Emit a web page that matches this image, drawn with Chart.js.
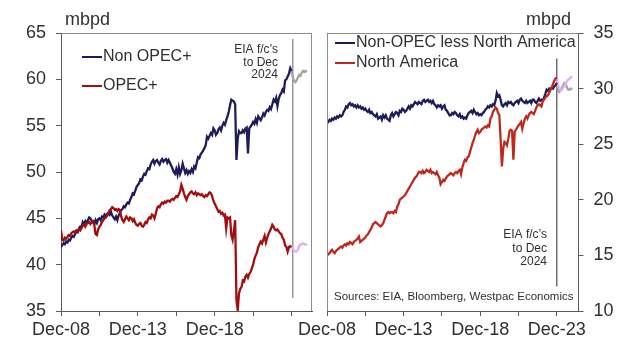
<!DOCTYPE html>
<html>
<head>
<meta charset="utf-8">
<title>Oil supply: OPEC+ vs non-OPEC+</title>
<script src="https://cdn.jsdelivr.net/npm/chart.js@4.4.1/dist/chart.umd.min.js"></script>
<style>
  body { margin: 0; background: #fff; }
  #wrap { position: relative; width: 634px; height: 340px; overflow: hidden; }
  .panel { position: absolute; top: 0; }
  #leftPanel { left: 0; }
  #rightPanel { left: 290px; }
</style>
</head>
<body>
<div id="wrap">
  <div class="panel" id="leftPanel"><canvas id="leftChart" width="320" height="340"></canvas></div>
  <div class="panel" id="rightPanel"><canvas id="rightChart" width="344" height="340"></canvas></div>
</div>
<script>
// Monthly supply, mbpd. Index 0 = Dec-08, one row per calendar year after that, last value Dec-23.
const nonOpecPlus = [41.9,
  42.1, 42.3, 42.2, 42.5, 42.4, 42.7, 42.6, 42.9, 43.1, 43.0, 43.3, 43.6,
  43.5, 43.9, 44.1, 44.0, 44.6, 44.4, 44.7, 44.5, 44.8, 45.1, 45.0, 44.7,
  44.6, 44.4, 44.8, 44.5, 44.9, 45.0, 44.8, 45.2, 45.1, 45.4, 45.2, 45.5,
  45.6, 45.4, 45.7, 45.3, 45.1, 44.9, 45.2, 44.8, 45.3, 45.6, 45.9, 46.0,
  46.3, 46.2, 46.5, 46.7, 46.6, 47.0, 47.3, 47.7, 47.6, 48.0, 48.4, 48.6,
  48.8, 49.2, 49.1, 49.5, 49.8, 49.7, 50.1, 50.4, 50.3, 50.8, 51.1, 51.3,
  50.9, 51.2, 51.3, 51.0, 50.8, 51.2, 51.4, 51.1, 51.3, 51.4, 51.0, 51.3,
  51.0, 50.7, 50.4, 50.0, 49.8, 50.3, 49.7, 50.5, 49.8, 50.2, 50.9, 50.4,
  49.9, 50.2, 49.8, 50.1, 49.9, 50.3, 50.0, 50.6, 50.4, 51.0, 51.6, 51.5,
  51.9, 52.1, 52.3, 52.6, 52.9, 53.8, 53.6, 53.9, 54.2, 54.0, 54.7, 54.5,
  54.0, 54.2, 54.6, 54.8, 54.5, 55.0, 55.3, 55.1, 55.6, 56.0, 56.5, 57.2,
  57.8, 57.7, 57.6, 57.3, 51.3, 53.6, 54.4, 54.2, 54.2, 54.5, 54.3, 54.7,
  54.8, 52.0, 54.7, 54.9, 55.1, 55.4, 55.2, 55.7, 55.3, 56.0, 55.8, 55.6,
  55.9, 56.3, 56.1, 56.5, 56.7, 56.6, 57.0, 56.8, 57.3, 57.8, 57.6, 58.0,
  57.1, 57.9, 58.3, 58.5, 58.9, 58.7, 59.9, 60.0, 60.3, 60.6, 61.2, 60.9];

const opecPlus = [43.7,
  42.7, 42.6, 42.9, 42.8, 43.0, 43.2, 43.1, 43.4, 43.5, 43.6, 43.5, 43.7,
  43.6, 43.8, 43.7, 44.0, 44.2, 44.3, 44.1, 44.4, 44.5, 44.6, 44.4, 44.6,
  44.7, 44.3, 43.3, 43.2, 43.8, 44.1, 44.3, 44.6, 44.8, 45.0, 45.1, 45.3,
  45.5, 45.9, 46.0, 46.2, 46.1, 45.9, 46.0, 45.8, 46.0, 45.9, 45.2, 44.8,
  44.6, 44.9, 45.2, 45.0, 44.8, 45.1, 45.0, 44.7, 44.9, 44.5, 44.3, 44.2,
  44.4, 44.5, 44.2, 44.1, 44.3, 44.6, 44.5, 44.9, 45.1, 45.0, 45.4, 45.3,
  45.0, 45.5, 46.1, 46.3, 46.2, 46.5, 46.7, 46.6, 46.8, 46.7, 46.9, 46.9,
  46.8, 47.0, 47.1, 47.0, 47.2, 47.4, 47.3, 47.6, 47.9, 48.6, 48.2, 47.7,
  47.3, 47.0, 47.4, 47.6, 47.8, 47.9, 47.7, 47.6, 47.8, 47.5, 47.7, 47.6,
  47.5, 47.6, 47.4, 47.3, 47.5, 47.4, 47.6, 47.8, 47.7, 47.4, 46.9, 46.6,
  46.3, 46.0, 45.7, 45.8, 45.5, 45.6, 45.3, 45.4, 43.9, 45.1, 45.0, 45.1,
  43.2, 42.7, 43.6, 44.8, 36.2, 35.1, 36.9, 37.4, 37.6, 38.3, 38.2, 38.7,
  38.9, 38.6, 39.0, 39.2, 39.6, 40.0, 40.6, 41.0, 41.3, 41.9, 42.2, 42.5,
  42.3, 42.7, 43.1, 42.4, 42.9, 43.3, 43.6, 43.9, 44.3, 44.1, 43.8, 43.7,
  43.8, 43.6, 43.4, 43.3, 42.9, 42.7, 42.1, 41.9, 41.4, 41.9, 42.0, 41.9];

const nonOpecExNorthAm = [26.9,
  27.0, 27.2, 27.1, 27.3, 27.2, 27.4, 27.3, 27.5, 27.4, 27.6, 27.5, 27.6,
  27.9, 28.1, 28.4, 28.3, 28.6, 28.7, 28.5, 28.6, 28.4, 28.5, 28.3, 28.5,
  28.3, 28.4, 28.2, 28.3, 28.1, 28.2, 28.0, 27.9, 28.1, 27.8, 27.9, 27.7,
  27.6, 27.5, 27.7, 27.3, 27.4, 27.5, 27.2, 27.6, 27.4, 27.6, 27.3, 27.2,
  27.1, 27.6, 27.8, 27.5, 27.7, 27.9, 27.8, 27.6, 28.0, 27.9, 28.2, 28.1,
  27.9, 28.0, 28.2, 28.4, 28.2, 28.5, 28.4, 28.6, 28.8, 28.7, 28.6, 28.8,
  28.7, 28.6, 28.9, 29.0, 28.8, 28.9, 29.0, 28.8, 28.9, 28.7, 28.9, 28.6,
  28.5, 28.3, 28.5, 28.4, 28.5, 28.2, 28.4, 28.5, 28.1, 28.0, 27.8, 27.6,
  27.6, 27.8, 27.7, 27.9, 27.8, 27.6, 27.5, 27.7, 27.4, 27.5, 27.3, 27.4,
  27.3, 27.6, 27.8, 27.9, 28.0, 27.8, 28.1, 27.9, 27.7, 27.8, 27.6, 27.7,
  27.6, 27.8, 27.9, 28.1, 28.2, 28.4, 28.3, 28.5, 28.4, 28.6, 28.5, 28.9,
  29.6, 29.3, 29.4, 29.0, 28.5, 28.4, 28.6, 28.7, 28.5, 28.8, 28.7, 28.8,
  28.6, 28.5, 28.7, 28.8, 28.9, 28.7, 29.0, 29.1, 28.9, 28.8, 28.7, 28.9,
  28.7, 28.8, 28.9, 28.7, 29.0, 29.0, 28.8, 28.7, 28.9, 29.1, 28.9, 29.0,
  28.9, 29.2, 29.5, 29.9, 29.8, 30.0, 29.9, 30.1, 30.0, 30.2, 30.3, 30.5];

const northAmerica = [15.0,
  15.1, 15.2, 15.4, 15.5, 15.3, 15.2, 15.4, 15.5, 15.6, 15.7, 15.8, 15.7,
  15.9, 16.0, 15.9, 16.1, 16.0, 16.2, 16.1, 16.0, 16.2, 16.3, 16.4, 16.5,
  16.7, 16.2, 16.3, 16.4, 16.5, 16.6, 16.8, 16.9, 17.1, 17.3, 17.5, 17.8,
  17.9, 18.0, 17.9, 17.8, 17.7, 17.6, 17.7, 17.9, 18.2, 18.5, 18.8, 18.9,
  18.8, 18.9, 18.9, 18.8, 19.0, 18.9, 19.4, 19.6, 20.0, 20.1, 20.2, 20.3,
  20.4, 20.6, 20.8, 21.0, 21.2, 21.4, 21.6, 21.8, 22.0, 22.1, 22.3, 22.5,
  22.5, 22.4, 22.6, 22.4, 22.5, 22.7, 22.6, 22.5, 22.7, 22.4, 22.5, 22.4,
  22.3, 22.5, 22.2, 22.0, 21.4, 21.6, 21.8, 21.7, 21.9, 22.1, 22.2, 22.3,
  22.4, 22.3, 22.2, 22.4, 22.5, 22.4, 22.6, 22.7, 22.3, 22.9, 23.3, 23.6,
  23.5, 23.8, 23.9, 24.3, 24.7, 25.1, 25.4, 25.8, 26.1, 26.3, 26.0, 26.1,
  26.3, 26.4, 26.5, 26.6, 26.5, 26.7, 26.6, 27.3, 27.5, 27.9, 28.1, 28.3,
  28.2, 27.8, 27.6, 25.4, 23.0, 24.6, 25.2, 25.1, 24.9, 25.5, 26.2, 26.3,
  26.2, 23.6, 26.1, 26.3, 26.5, 26.7, 26.8, 27.0, 26.4, 26.9, 27.3, 27.5,
  27.3, 27.6, 27.8, 27.9, 27.8, 27.7, 28.0, 28.3, 28.5, 28.6, 28.5, 28.4,
  28.9, 29.0, 29.2, 29.3, 29.4, 29.6, 29.9, 30.1, 30.4, 30.7, 30.9, 31.0];

// EIA forecasts, Dec-23 through Dec-24
const forecastStart = 180;
const nonOpecPlusFc = [60.9, 60.2, 59.8, 59.7, 59.9, 60.2, 60.5, 60.4, 60.7, 60.9, 60.8, 60.9, 60.8];
const opecPlusFc = [41.9, 41.8, 41.5, 41.4, 41.4, 41.6, 42.0, 42.2, 42.2, 42.3, 42.2, 42.2, 42.1];
const nonOpecExNorthAmFc = [30.5, 29.8, 29.7, 29.9, 30.1, 30.3, 30.5, 30.4, 30.1, 29.9, 29.9, 30.0, 29.9];
const northAmericaFc = [31.0, 30.3, 30.0, 29.8, 29.9, 30.1, 30.2, 30.4, 30.7, 30.8, 30.9, 31.0, 31.1];

// forecast divider lines: month and y extent
const leftDivider = { month: 181, from: 64.35, to: 36.4 };
const rightDivider = { month: 180, from: 32.7, to: 12.2 };

// x ticks every 30 months, labelled every 5 years
const xTickMonths = [0, 30, 60, 90, 120, 150, 180];
const leftXLabels = ['Dec-08', '', 'Dec-13', '', 'Dec-18', '', ''];
const rightXLabels = ['Dec-08', '', 'Dec-13', '', 'Dec-18', '', 'Dec-23'];
const leftYTicks = [35, 40, 45, 50, 55, 60, 65];
const rightYTicks = [10, 15, 20, 25, 30, 35];

const FONT = '"Liberation Sans", Arial, Helvetica, sans-serif';
const NAVY = '#1f1c5c';
const TEXT = '#303030';
const AXIS = '#5a5a5a';
const LINE_W = 2.3;

Chart.defaults.font.family = FONT;
Chart.defaults.animation = false;

function toPoints(values, start) {
    return values.map((v, i) => ({ x: start + i, y: v }));
}

function lineSet(data, color, width) {
    return {
        data: data,
        borderColor: color,
        borderWidth: width || LINE_W,
        pointRadius: 0,
        tension: 0,
        fill: false
    };
}

function drawText(ctx, text, x, y, font, align) {
    ctx.save();
    ctx.font = font;
    ctx.fillStyle = TEXT;
    ctx.textAlign = align || 'left';
    ctx.textBaseline = 'middle';
    ctx.fillText(text, x, y);
    ctx.restore();
}

// top/side border of the plot box
const framePlugin = {
    id: 'frame',
    afterDraw(chart, args, opts) {
        const { ctx, chartArea: a } = chart;
        ctx.save();
        ctx.strokeStyle = opts.color;
        ctx.lineWidth = 1;
        ctx.beginPath();
        ctx.moveTo(a.left, a.top + 0.5);
        ctx.lineTo(a.right, a.top + 0.5);
        const sx = opts.side === 'right' ? a.right - 0.5 : a.left + 0.5;
        ctx.moveTo(sx, a.top);
        ctx.lineTo(sx, a.bottom);
        ctx.stroke();
        ctx.restore();
    }
};

// unit label, legend and notes
const notesPlugin = {
    id: 'notes',
    afterDraw(chart, args, opts) {
        const ctx = chart.ctx;
        drawText(ctx, 'mbpd', opts.unit.x, opts.unit.y, '18px ' + FONT, opts.unit.align);
        opts.legend.items.forEach((item, i) => {
            const y = opts.legend.y + i * opts.legend.gap;
            ctx.save();
            ctx.strokeStyle = item.color;
            ctx.lineWidth = 2;
            ctx.beginPath();
            ctx.moveTo(opts.legend.x, y);
            ctx.lineTo(opts.legend.x + 20, y);
            ctx.stroke();
            ctx.restore();
            drawText(ctx, item.label, opts.legend.x + 21, y, '16px ' + FONT);
        });
        opts.note.lines.forEach((line, i) => {
            drawText(ctx, line, opts.note.x, opts.note.y + i * opts.note.gap, '12px ' + FONT, 'right');
        });
        if (opts.source) {
            drawText(ctx, opts.source.text, opts.source.x, opts.source.y, '11.5px ' + FONT);
        }
    }
};

function xScale(max, labels) {
    return {
        type: 'linear',
        min: 0,
        max: max,
        afterBuildTicks: s => { s.ticks = xTickMonths.map(v => ({ value: v })); },
        afterFit: s => { s.height = 29; },
        grid: { drawOnChartArea: false, drawTicks: true, tickLength: 5, color: AXIS },
        border: { color: AXIS },
        ticks: {
            autoSkip: false,
            maxRotation: 0,
            padding: 3,
            color: TEXT,
            font: { size: 18 },
            callback: (v, i) => labels[i]
        }
    };
}

function yScale(min, max, tickValues, position, width) {
    return {
        type: 'linear',
        position: position,
        min: min,
        max: max,
        afterBuildTicks: s => { s.ticks = tickValues.map(v => ({ value: v })); },
        afterFit: s => { s.width = width; },
        grid: { drawOnChartArea: false, drawTicks: true, tickLength: 5, color: AXIS },
        border: { color: AXIS },
        ticks: { padding: 10, color: TEXT, font: { size: 18 } }
    };
}

function createLeftChart() {
    new Chart(document.getElementById('leftChart'), {
        type: 'line',
        data: {
            datasets: [
                lineSet(toPoints(opecPlus, 0), '#a30d0d'),
                lineSet(toPoints(nonOpecPlus, 0), NAVY),
                lineSet(toPoints(opecPlusFc, forecastStart), '#ddb0f2'),
                lineSet(toPoints(nonOpecPlusFc, forecastStart), '#a3a3a3'),
                lineSet([{ x: leftDivider.month, y: leftDivider.from },
                         { x: leftDivider.month, y: leftDivider.to }], '#8d7690', 1.2)
            ]
        },
        options: {
            responsive: false,
            layout: { padding: { top: 33, right: 8, left: 0, bottom: 0 } },
            plugins: {
                legend: { display: false },
                tooltip: { enabled: false },
                frame: { color: '#8c8c8c', side: 'right' },
                notes: {
                    unit: { x: 65, y: 20, align: 'left' },
                    legend: {
                        x: 82, y: 57, gap: 29,
                        items: [{ label: 'Non OPEC+', color: NAVY }, { label: 'OPEC+', color: '#a30d0d' }]
                    },
                    note: { x: 278, y: 50, gap: 12.5, lines: ['EIA f/c\u2019s', 'to Dec', '2024'] }
                }
            },
            scales: {
                x: xScale(196, leftXLabels),
                y: yScale(35, 65, leftYTicks, 'left', 61)
            }
        },
        plugins: [framePlugin, notesPlugin]
    });
}

function createRightChart() {
    new Chart(document.getElementById('rightChart'), {
        type: 'line',
        data: {
            datasets: [
                lineSet(toPoints(northAmerica, 0), '#c0281e'),
                lineSet(toPoints(nonOpecExNorthAm, 0), NAVY),
                lineSet(toPoints(northAmericaFc, forecastStart), '#ddb0f2'),
                lineSet(toPoints(nonOpecExNorthAmFc, forecastStart), '#a3a3a3'),
                lineSet([{ x: rightDivider.month, y: rightDivider.from },
                         { x: rightDivider.month, y: rightDivider.to }], '#4d4d4d', 1.2)
            ]
        },
        options: {
            responsive: false,
            layout: { padding: { top: 33, right: 0, left: 37, bottom: 0 } },
            plugins: {
                legend: { display: false },
                tooltip: { enabled: false },
                frame: { color: '#8c8c8c', side: 'left' },
                notes: {
                    unit: { x: 281, y: 20, align: 'right' },
                    legend: {
                        x: 45, y: 43, gap: 20,
                        items: [{ label: 'Non-OPEC less North America', color: NAVY },
                                { label: 'North America', color: '#c0281e' }]
                    },
                    note: { x: 257, y: 235, gap: 13.3, lines: ['EIA f/c\u2019s', 'to Dec', '2024'] },
                    source: { text: 'Sources: EIA, Bloomberg, Westpac Economics', x: 44, y: 297 }
                }
            },
            scales: {
                x: xScale(197, rightXLabels),
                y: yScale(10, 35, rightYTicks, 'right', 55.5)
            }
        },
        plugins: [framePlugin, notesPlugin]
    });
}

createLeftChart();
createRightChart();
</script>
</body>
</html>
